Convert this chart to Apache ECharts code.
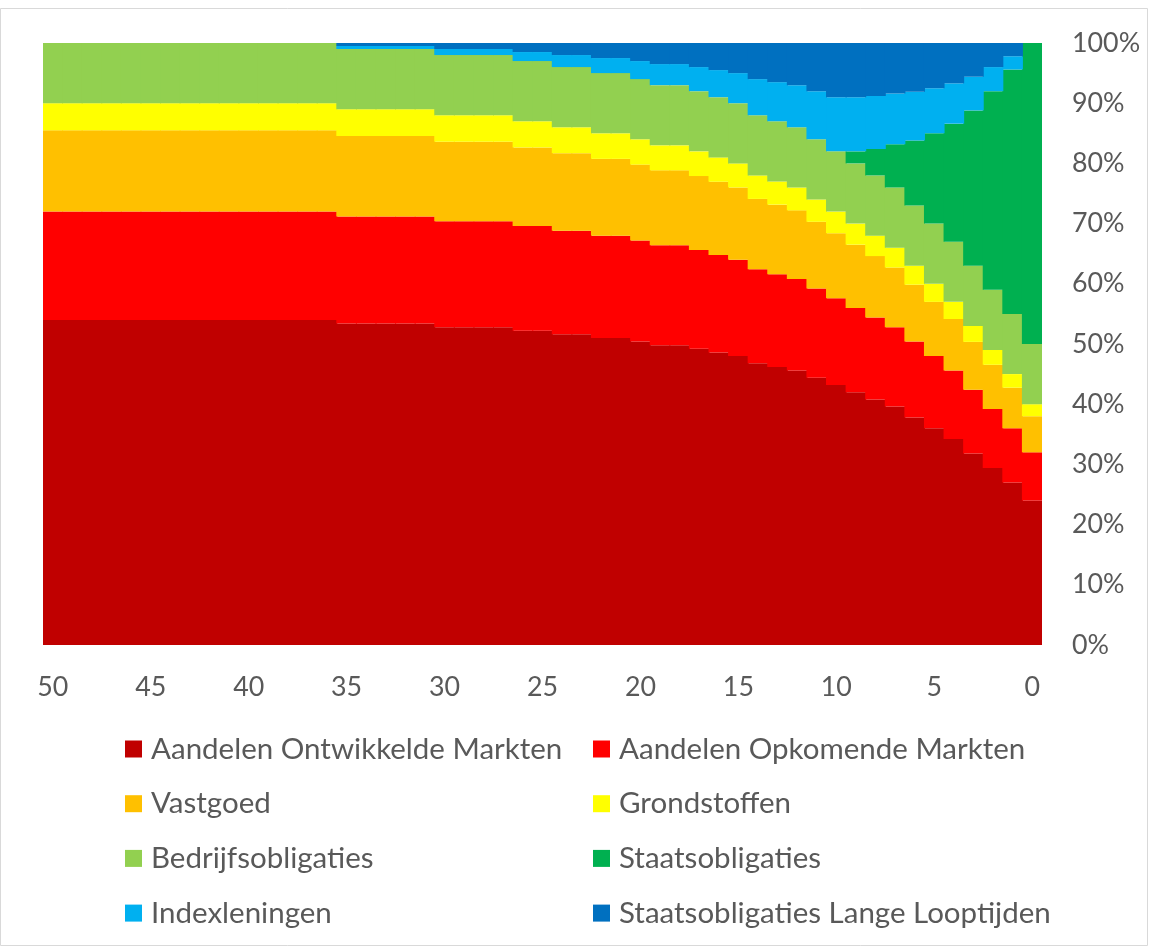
<!DOCTYPE html>
<html>
<head>
<meta charset="utf-8">
<script src="https://cdn.jsdelivr.net/npm/echarts@6/dist/echarts.min.js"></script>
<style>
html,body{margin:0;padding:0;background:#fff;}
#chart{width:1150px;height:947px;}
</style>
</head>
<body>
<div id="chart"></div>
<script>
// Years to go (horizon), from 50 down to 0
const years = ['50','49','48','47','46','45','44','43','42','41','40','39','38','37','36','35','34','33','32','31','30','29','28','27','26','25','24','23','22','21','20','19','18','17','16','15','14','13','12','11','10','9','8','7','6','5','4','3','2','1','0'];

const seriesNames = ['Aandelen Ontwikkelde Markten','Aandelen Opkomende Markten','Vastgoed','Grondstoffen','Bedrijfsobligaties','Staatsobligaties','Indexleningen','Staatsobligaties Lange Looptijden'];

const aandelenOntwikkeld = [54,54,54,54,54,54,54,54,54,54,54,54,54,54,54,53.4,53.4,53.4,53.4,53.4,52.8,52.8,52.8,52.8,52.2,52.2,51.6,51.6,51,51,50.4,49.8,49.8,49.2,48.6,48,46.8,46.2,45.6,44.4,43.2,42,40.8,39.6,37.8,36,34.2,31.8,29.4,27,24];
const aandelenOpkomend = [18,18,18,18,18,18,18,18,18,18,18,18,18,18,18,17.8,17.8,17.8,17.8,17.8,17.6,17.6,17.6,17.6,17.4,17.4,17.2,17.2,17,17,16.8,16.6,16.6,16.4,16.2,16,15.6,15.4,15.2,14.8,14.4,14,13.6,13.2,12.6,12,11.4,10.6,9.8,9,8];
const vastgoed = [13.5,13.5,13.5,13.5,13.5,13.5,13.5,13.5,13.5,13.5,13.5,13.5,13.5,13.5,13.5,13.35,13.35,13.35,13.35,13.35,13.2,13.2,13.2,13.2,13.05,13.05,12.9,12.9,12.75,12.75,12.6,12.45,12.45,12.3,12.15,12,11.7,11.55,11.4,11.1,10.8,10.5,10.2,9.9,9.45,9,8.55,7.95,7.35,6.75,6];
const grondstoffen = [4.5,4.5,4.5,4.5,4.5,4.5,4.5,4.5,4.5,4.5,4.5,4.5,4.5,4.5,4.5,4.45,4.45,4.45,4.45,4.45,4.4,4.4,4.4,4.4,4.35,4.35,4.3,4.3,4.25,4.25,4.2,4.15,4.15,4.1,4.05,4,3.9,3.85,3.8,3.7,3.6,3.5,3.4,3.3,3.15,3,2.85,2.65,2.45,2.25,2];
const bedrijfsobligaties = [10,10,10,10,10,10,10,10,10,10,10,10,10,10,10,10,10,10,10,10,10,10,10,10,10,10,10,10,10,10,10,10,10,10,10,10,10,10,10,10,10,10,10,10,10,10,10,10,10,10,10];
const staatsobligaties = [0,0,0,0,0,0,0,0,0,0,0,0,0,0,0,0,0,0,0,0,0,0,0,0,0,0,0,0,0,0,0,0,0,0,0,0,0,0,0,0,0,2,4.4,7.2,10.8,15,19.6,25.8,33,40.6,50];
const indexleningen = [0,0,0,0,0,0,0,0,0,0,0,0,0,0,0,0.5,0.5,0.5,0.5,0.5,1,1,1,1,1.5,1.5,2,2,2.5,2.5,3,3.5,3.5,4,4.5,5,6,6.5,7,8,9,9,8.8,8.4,8.1,7.5,6.7,5.6,4,2.2,0];
const staatsLang = [0,0,0,0,0,0,0,0,0,0,0,0,0,0,0,0.5,0.5,0.5,0.5,0.5,1,1,1,1,1.5,1.5,2,2,2.5,2.5,3,3.5,3.5,4,4.5,5,6,6.5,7,8,9,9,8.8,8.4,8.1,7.5,6.7,5.6,4,2.2,0];

const yTicks = [0,10,20,30,40,50,60,70,80,90,100];

const colors = ['#C00000','#FF0000','#FFC000','#FFFF00','#92D050','#00B050','#00B0F0','#0070C0'];
const allData = [aandelenOntwikkeld,aandelenOpkomend,vastgoed,grondstoffen,bedrijfsobligaties,staatsobligaties,indexleningen,staatsLang];

const FONT = 'Lato';
function fitSize(text, target){
  const c = document.createElement('canvas').getContext('2d');
  c.font = '100px ' + FONT;
  return Math.round(100 * target / c.measureText(text).width * 10) / 10;
}
const legendSize = fitSize('Aandelen Ontwikkelde Markten', 411);
const axisSize = fitSize('100%', 68);

const chart = echarts.init(document.getElementById('chart'), null, {renderer:'canvas'});

const series = seriesNames.map((n,i)=>({
  name:n, type:'bar', stack:'total', data:allData[i],
  barWidth:20.6,
  itemStyle:{color:colors[i], borderWidth:0},
  emphasis:{disabled:true}, animation:false
}));

const legendCommon = {
  orient:'vertical', itemWidth:17, itemHeight:17, itemGap:22.7,
  icon:'rect',
  textStyle:{fontFamily:FONT, fontSize:legendSize, color:'#595959', lineHeight:32, padding:[0,0,0,4]},
  selectedMode:false
};

chart.setOption({
  animation:false,
  backgroundColor:'#ffffff',
  textStyle:{fontFamily:FONT},
  grid:{left:43, right:108, top:43, bottom:302, containLabel:false},
  xAxis:{
    type:'category', data:years,
    axisLine:{show:false},
    axisTick:{show:false},
    axisLabel:{interval:4, fontFamily:FONT, fontSize:axisSize, color:'#595959', margin:29}
  },
  yAxis:{
    type:'value', position:'right', min:yTicks[0], max:yTicks[yTicks.length-1], interval:10,
    axisLine:{show:false}, axisTick:{show:false}, splitLine:{show:false},
    axisLabel:{formatter:'{value}%', fontFamily:FONT, fontSize:axisSize, color:'#595959', margin:30}
  },
  legend:[
    Object.assign({left:120, top:728, data:[seriesNames[0],seriesNames[2],seriesNames[4],seriesNames[6]]}, legendCommon),
    Object.assign({left:588, top:728, data:[seriesNames[1],seriesNames[3],seriesNames[5],seriesNames[7]]}, legendCommon)
  ],
  graphic:[{type:'rect', shape:{x:0.5,y:8.5,width:1147,height:937}, style:{fill:'none', stroke:'#D9D9D9', lineWidth:1}, silent:true, z:-1}],
  series:series
});
</script>
</body>
</html>
